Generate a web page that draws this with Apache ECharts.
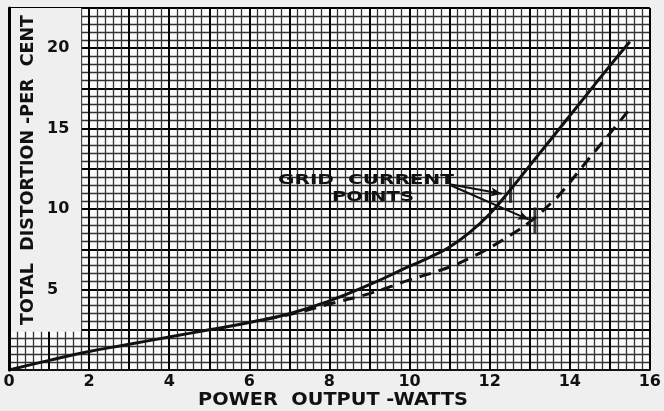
<!DOCTYPE html>
<html><head><meta charset="utf-8">
<script src="https://cdn.jsdelivr.net/npm/echarts/dist/echarts.min.js"></script>
<style>html,body{margin:0;padding:0;background:#efefef}#c{width:664px;height:411px}</style>
</head><body><div id="c"></div>
<script>
// ---- data ----
const xLabels = [0, 2, 4, 6, 8, 10, 12, 14, 16];
const yLabels = [5, 10, 15, 20];
const solidX = [0, 1, 2, 3, 4, 5, 6, 7, 8, 9, 10, 10.5, 11, 11.5, 12, 12.5, 13, 14, 15, 15.5];
const solidY = [0, 0.6, 1.15, 1.6, 2.05, 2.5, 2.95, 3.5, 4.3, 5.3, 6.45, 7.0, 7.65, 8.55, 9.7, 11.15, 12.7, 15.8, 18.9, 20.4];
const dashedX = [6.4, 7, 7.5, 8, 9, 10, 11, 11.5, 12, 12.5, 13, 13.57, 13.78, 14.5, 15, 15.54];
const dashedY = [3.15, 3.45, 3.75, 4.1, 4.75, 5.6, 6.4, 6.95, 7.6, 8.35, 9.2, 10.46, 11.0, 13.2, 14.7, 16.35];
const gridCurrentSolid = [12.52, 11.2];
const gridCurrentDashed = [13.13, 9.3];
const annotationText = ['GRID  CURRENT', 'POINTS'];
const xTitle = 'POWER  OUTPUT -WATTS';
const yTitle = 'TOTAL  DISTORTION -PER  CENT';

// ---- helpers ----
const ctx = document.createElement('canvas').getContext('2d');
function fit(text, font, width) { ctx.font = font; return width / ctx.measureText(text).width; }
function pairs(xs, ys) { return xs.map((x, i) => [x, ys[i]]); }

const chart = echarts.init(document.getElementById('c'), null, {renderer: 'canvas'});
const ink = '#111';
const fXT = 'bold 17px "DejaVu Sans"';
const fYT = 'bold 17px "DejaVu Sans"';
const fAn = 'bold 14px "DejaVu Sans"';

chart.setOption({
  animation: false,
  backgroundColor: '#efefef',
  grid: {left: 9, right: 5, top: 8, bottom: 41, show: true, backgroundColor: '#fbfbfb', borderWidth: 0},
  xAxis: {
    type: 'value', min: 0, max: 16, interval: 1,
    axisLine: {show: true, lineStyle: {color: ink, width: 2}},
    axisTick: {show: false},
    axisLabel: {color: ink, fontSize: 16, fontWeight: 'bold', fontFamily: 'DejaVu Sans', margin: 4,
      formatter: v => xLabels.includes(v) ? String(v) : ''},
    splitLine: {show: true, lineStyle: {color: '#000', width: 2}},
    minorTick: {show: false, splitNumber: 5},
    minorSplitLine: {show: true, lineStyle: {color: '#333', width: 1.3}}
  },
  yAxis: [{
    type: 'value', min: 0, max: 22.5, interval: 2.5,
    axisLine: {show: false}, axisTick: {show: false}, axisLabel: {show: false},
    splitLine: {show: true, lineStyle: {color: '#000', width: 2}},
    minorTick: {show: false, splitNumber: 5},
    minorSplitLine: {show: true, lineStyle: {color: '#333', width: 1.3}}
  }, {
    type: 'value', min: 0, max: 22.5, interval: 2.5, position: 'left', z: 5,
    axisLine: {show: true, onZero: false, lineStyle: {color: '#000', width: 3}},
    axisTick: {show: false},
    splitLine: {show: false},
    axisLabel: {inside: true, margin: 38, color: ink, fontSize: 16, fontWeight: 'bold', fontFamily: 'DejaVu Sans',
      formatter: v => yLabels.includes(v) ? String(v) : ''}
  }],
  series: [{
    type: 'line', data: pairs(solidX, solidY), smooth: 0.5, symbol: 'none',
    lineStyle: {color: ink, width: 3}, z: 3,
    markArea: {silent: true, itemStyle: {color: '#efefef', opacity: 1},
      data: [[{coord: [0.04, 2.38]}, {coord: [1.8, 22.5]}]]},
    markLine: {silent: true, symbol: ['none', 'arrow'], symbolSize: [7, 11],
      label: {show: false}, lineStyle: {color: ink, width: 2, type: 'solid'},
      data: [
        [{coord: [11.0, 11.55]}, {coord: [12.3, 10.95]}],
        [{coord: [11.05, 11.45]}, {coord: [12.98, 9.35]}]
      ]}
  }, {
    type: 'line', data: pairs(dashedX, dashedY), smooth: 0.5, symbol: 'none',
    lineStyle: {color: ink, width: 3, type: [12, 8]}, z: 3
  }, {
    type: 'scatter', data: [gridCurrentSolid, gridCurrentDashed], symbol: 'rect', symbolSize: [3, 26],
    itemStyle: {color: ink}, z: 4
  }],
  graphic: [
    {type: 'text', z: 10, x: 333, y: 401, scaleX: fit(xTitle, fXT, 270),
     style: {text: xTitle, font: fXT, fill: ink, textAlign: 'center', textVerticalAlign: 'middle'}},
    {type: 'text', z: 10, x: 29, y: 170, rotation: Math.PI / 2, scaleX: fit(yTitle, fYT, 310),
     style: {text: yTitle, font: fYT, fill: ink, textAlign: 'center', textVerticalAlign: 'middle'}},
    {type: 'text', z: 10, x: 366, y: 180, scaleX: fit(annotationText[0], fAn, 176),
     style: {text: annotationText[0], font: fAn, fill: ink, textAlign: 'center', textVerticalAlign: 'middle'}},
    {type: 'text', z: 10, x: 373, y: 197, scaleX: fit(annotationText[1], fAn, 82),
     style: {text: annotationText[1], font: fAn, fill: ink, textAlign: 'center', textVerticalAlign: 'middle'}}
  ]
});
</script></body></html>
